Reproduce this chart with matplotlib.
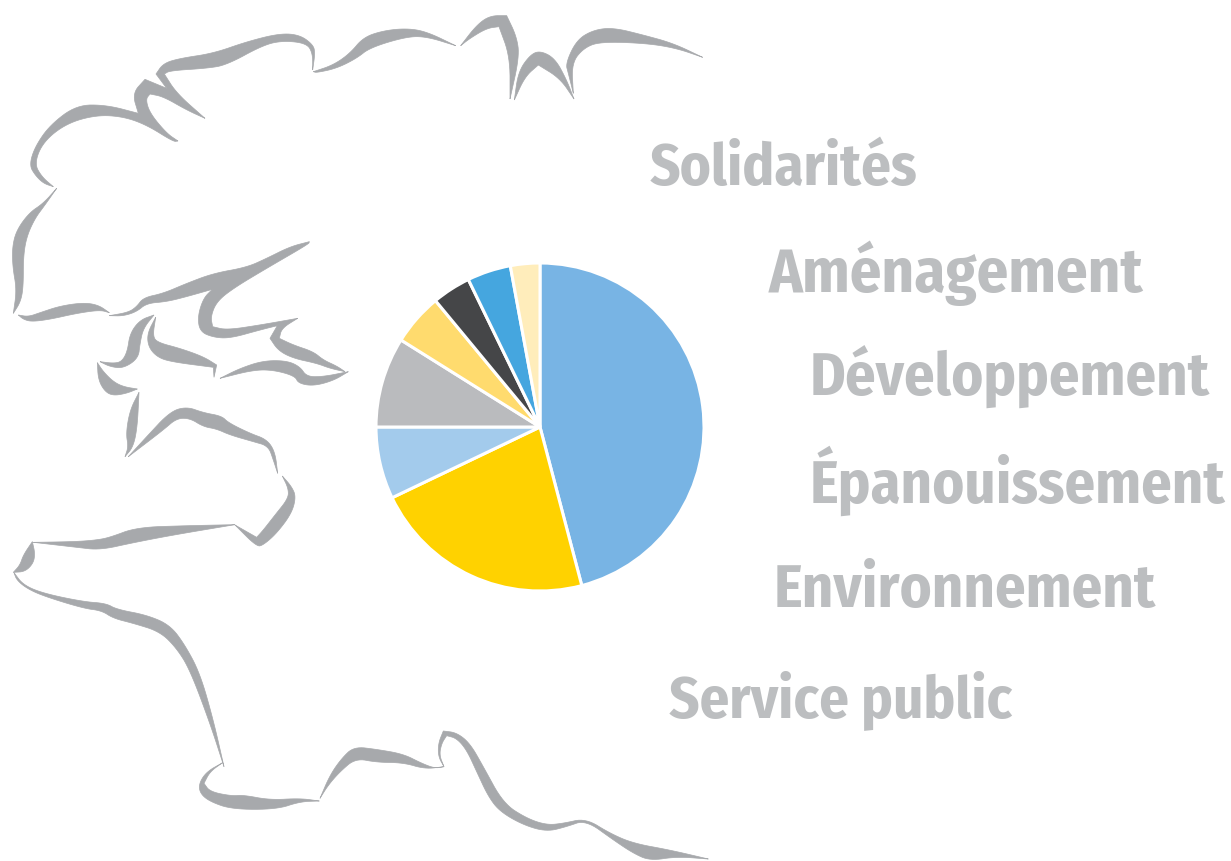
import numpy as np
import matplotlib
matplotlib.use('Agg')
import matplotlib.pyplot as plt
from matplotlib.patches import Polygon

# slice shares, clockwise from the top
shares = [45.9, 22.0, 7.1, 8.9, 5.1, 3.8, 4.3, 2.9]
slice_colors = ['#78B4E4', '#FFD200', '#A3CBEC', '#BABBBE', '#FFDB6E', '#454648', '#45A6DF', '#FFEDBB']

labels = ['Solidarités', 'Aménagement', 'Développement', 'Épanouissement', 'Environnement', 'Service public']
label_x = [650, 769, 810, 810, 774, 669]
label_y = [185, 292, 396, 503, 607, 717]
label_size = [42.4, 45, 43.5, 43.5, 43.5, 42.3]

# coast decoration, traced on 3x crops: (offset x, offset y, outline)
coast = [
    (0, 0, [(534,423),(520,425),(440,375),(370,350),(290,345),(200,370),(130,425),(103,490),(125,530),(160,560),
            (130,550),(105,525),(88,495),(105,440),(150,375),(230,315),(320,315),(415,340),(397,280),(435,238),
            (500,265),(468,222),(490,190),(540,175),(640,160),(740,125),(840,100),(900,105),(940,135),(945,160),(938,210),
            (938,160),(920,130),(850,122),(790,135),(680,195),(620,205),(510,212),(493,222),(530,280),(615,355),
            (560,330),(490,290),(450,282),(437,298),(450,340),(500,400)]),
    (0, 0, [(170,565),(130,610),(88,638),(50,690),(37,740),(38,800),(50,870),(40,940),(62,905),(70,860),(70,770),
            (80,710),(105,655),(135,615)]),
    (0, 0, [(55,945),(85,950),(120,938),(180,918),(250,908),(295,915),(328,938),(300,930),(230,940),(150,958),
            (95,965),(70,958)]),
    (0, 230, [(328,257),(385,247),(410,230),(430,203),(490,190),(560,160),(640,130),(740,112),(800,85),(870,50),
              (928,35),(926,42),(800,115),(700,175),(650,215),(632,260),(638,290),(680,300),(780,285),(893,265),
              (845,295),(838,325),(880,345),(940,365),(970,390),(1010,408),(1035,425),(990,415),(950,400),(880,385),
              (835,362),(810,325),(832,287),(780,300),(690,325),(640,322),(600,305),(593,260),(610,205),(637,178),
              (560,200),(500,215),(440,220),(410,245),(370,258)]),
    (0, 230, [(660,445),(720,415),(790,392),(860,392),(900,410),(920,440),(970,440),(1045,425),(1000,452),(940,468),
              (895,460),(885,438),(820,420),(760,420)]),
    (0, 230, [(462,255),(420,270),(390,310),(382,365),(365,395),(340,400),(300,395),(330,410),(370,415),(415,385),
              (420,340),(430,295)]),
    (0, 230, [(467,262),(442,310),(445,350),(470,380),(510,395),(640,412),(642,442),(650,405),(610,380),(540,355),
              (475,338),(458,320)]),
    (0, 230, [(292,398),(295,450),(315,485),(340,497),(380,490),(412,477),(370,470),(340,455),(310,425)]),
    (0, 230, [(417,487),(390,540),(378,610),(385,650),(375,680),(400,650),(412,590)]),
    (0, 230, [(385,680),(440,620),(510,545),(560,530),(610,548),(665,558),(685,578),(750,610),(800,628),(825,665),
              (833,730),(820,690),(805,648),(760,635),(690,615),(650,597),(610,590),(570,565),(530,565),(490,600)]),
    (0, 230, [(847,738),(875,770),(888,800),(875,850),(830,910),(790,945),(770,950),(705,885),(770,922),(790,900),
              (825,855),(865,805),(865,775)]),
    (0, 230, [(705,884),(560,887),(410,892),(330,922),(290,930),(225,935),(100,937),(230,952),(300,960),(400,938),
              (520,915)]),
    (0, 520, [(97,65),(70,105),(60,135),(40,157),(75,155),(100,130),(105,100)]),
    (0, 520, [(42,158),(70,195),(130,220),(250,245),(318,250),(350,268),(440,285),(510,315),(555,375),(600,460),
              (640,600),(672,740),(630,610),(570,450),(530,385),(480,335),(400,310),(340,295),(305,272),(250,265),
              (130,228),(80,205),(50,180)]),
    (0, 520, [(668,728),(620,755),(597,790),(600,820),(630,845),(697,868),(830,868),(900,845),(958,843),(900,835),
              (810,840),(730,825),(695,828),(630,815),(612,790),(630,755)]),
    (300, 700, [(60,295),(90,225),(125,175),(162,140),(230,148),(310,162),(365,190),(405,205),(432,200),(375,207),
                (310,188),(230,187),(167,175),(120,215),(85,255)]),
    (300, 700, [(432,200),(415,170),(415,130),(430,93),(470,98),(510,130),(550,200),(610,310),(680,355),(740,375),
                (790,370),(857,355),(930,400),(1000,430),(1110,450),(1225,477),(1130,470),(1050,482),(1000,460),
                (940,420),(857,360),(800,380),(740,395),(670,375),(600,335),(565,290),(530,215),(500,150),(470,115),
                (440,107),(425,130),(418,165)]),
    (300, 0, [(40,215),(100,195),(150,160),(190,112),(250,92),(320,85),(380,95),(467,137),(380,110),(320,110),
              (210,143),(170,175),(110,205),(50,218)]),
    (300, 0, [(482,137),(530,75),(570,47),(620,47),(650,110),(658,170),(630,297),(630,170),(597,80),(560,85),(510,115)]),
    (300, 0, [(643,300),(655,215),(690,165),(720,152),(765,175),(800,240),(822,297),(780,235),(715,195),(675,230)]),
    (300, 0, [(797,190),(830,120),(880,90),(940,83),(1030,105),(1120,130),(1208,172),(1130,145),(1040,130),(900,125),
              (850,145),(815,190),(820,280),(805,220)]),
]


def smooth_outline(pts, corner_deg=60, passes=3):
    """Round the traced outline but keep the sharp tips."""
    pts = np.asarray(pts, dtype=float)
    n = len(pts)
    v1 = pts - np.roll(pts, 1, axis=0)
    v2 = np.roll(pts, -1, axis=0) - pts
    cosang = (v1 * v2).sum(axis=1) / (np.linalg.norm(v1, axis=1) * np.linalg.norm(v2, axis=1))
    corners = np.where(cosang < np.cos(np.radians(corner_deg)))[0]
    if len(corners) == 0:
        corners = np.array([0])
    out = []
    for a, b in zip(corners, np.roll(corners, -1)):
        stop = b if b > a else b + n
        run = pts[np.arange(a, stop + 1) % n]
        for _ in range(passes):
            if len(run) < 3:
                break
            q = 0.75 * run[:-1] + 0.25 * run[1:]
            r = 0.25 * run[:-1] + 0.75 * run[1:]
            mid = np.empty((2 * len(q), 2))
            mid[0::2] = q
            mid[1::2] = r
            run = np.vstack([run[0], mid, run[-1]])
        out.append(run[:-1])
    return np.vstack(out)


fig = plt.figure(figsize=(12.31, 8.61), dpi=100)
ax = fig.add_axes([0, 0, 1, 1])

# y axis points down, so the pie runs clockwise on screen with counterclock on
ax.pie(shares, colors=slice_colors, center=(540, 427), radius=164, startangle=-90, counterclock=True,
       wedgeprops={'edgecolor': 'white', 'linewidth': 2.2})

for ox, oy, outline in coast:
    pts = [(ox + x / 3, oy + y / 3) for x, y in outline]
    ax.add_patch(Polygon(smooth_outline(pts), closed=True, facecolor='#A7A9AC', edgecolor='#A7A9AC', linewidth=0.5))

for name, x, y, size in zip(labels, label_x, label_y, label_size):
    ax.text(x, y, name, fontsize=size, fontweight='bold', color='#BCBEC0', va='baseline', ha='left',
            family=['Fira Sans Condensed', 'Liberation Sans'])

ax.set_xlim(0, 1231)
ax.set_ylim(861, 0)
ax.set_aspect('auto')
ax.axis('off')
fig.savefig('out.png', dpi=100, facecolor='white')
